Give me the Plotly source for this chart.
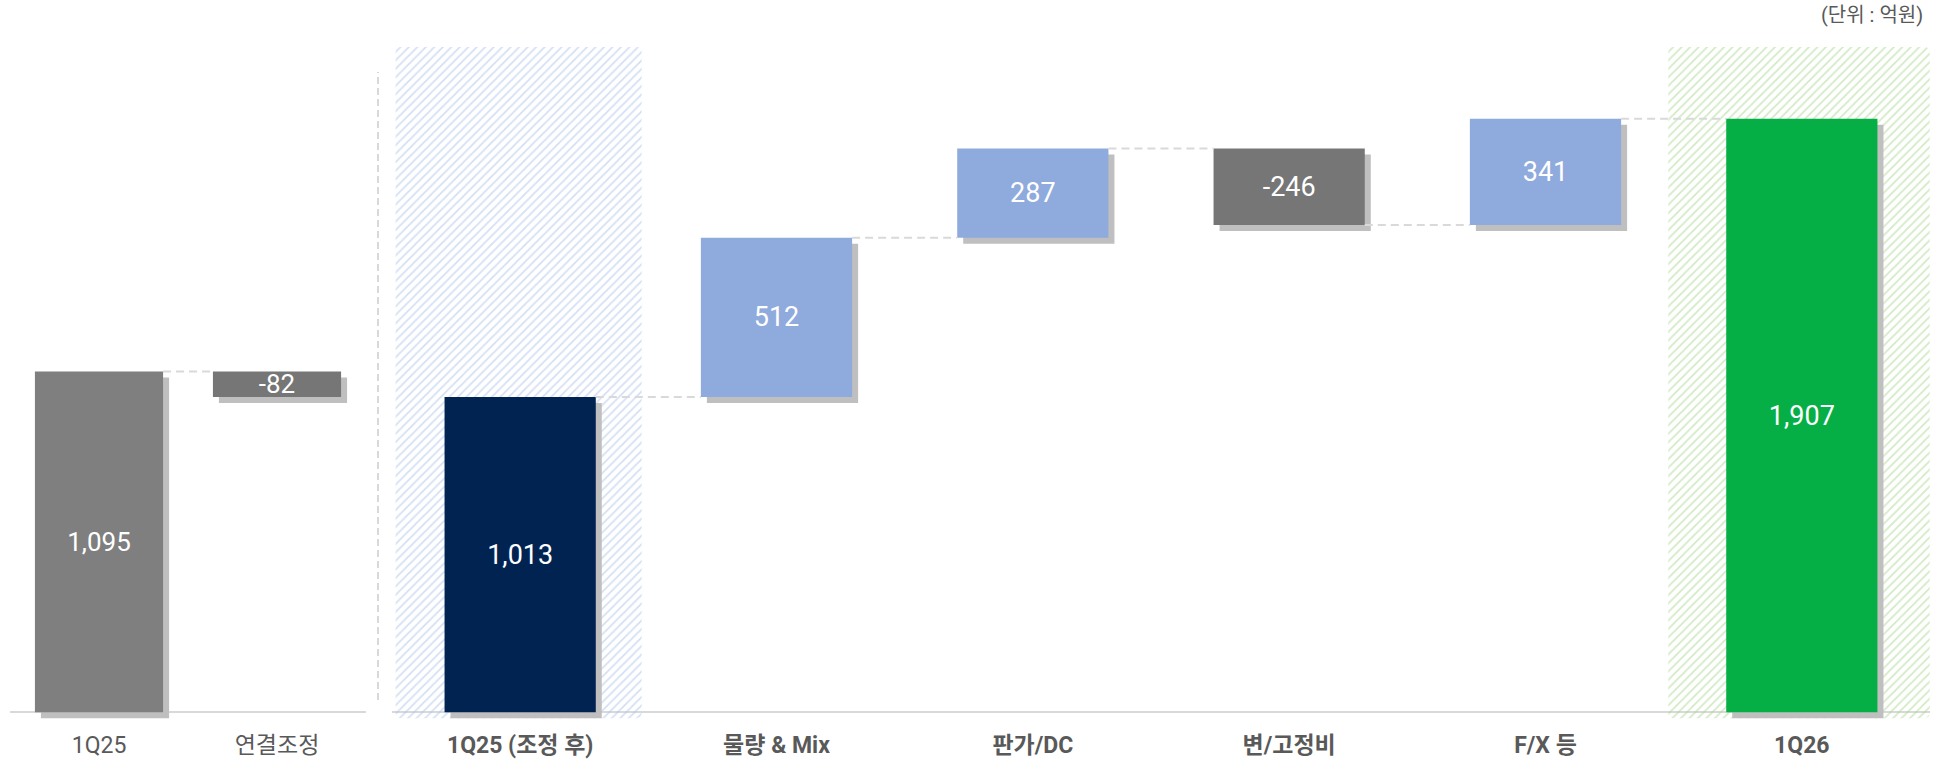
import plotly.graph_objects as go

# ---------------- data ----------------
LEFT_CATS = ["1Q25", "연결조정"]
LEFT_VALUES = [1095, -82]
LEFT_MEASURES = ["absolute", "relative"]
LEFT_COLORS = ["#7F7F7F", "#767676"]

RIGHT_CATS = ["1Q25 (조정 후)", "물량 & Mix", "판가/DC", "변/고정비", "F/X 등", "1Q26"]
RIGHT_VALUES = [1013, 512, 287, -246, 341, 1907]
RIGHT_MEASURES = ["absolute", "relative", "relative", "relative", "relative", "total"]
RIGHT_COLORS = ["#002352", "#8FAADC", "#8FAADC", "#767676", "#8FAADC", "#06AF46"]

HIGHLIGHT_IDX = [0, 5]
HIGHLIGHT_COLORS = ["#A9C1E8", "#A6D68C"]

UNIT_LABEL = "(단위 : 억원)"

# ---------------- layout constants ----------------
W, H = 1946, 760
M_T, M_B = 47, 40
Y_MIN, Y_MAX = -25, 2138
PLOT_H = H - M_T - M_B
PX_PER_UNIT = PLOT_H / (Y_MAX - Y_MIN)

LEFT_DOMAIN = [10 / W, 366 / W]
RIGHT_DOMAIN = [392 / W, 1930 / W]
LEFT_PX_PER_CAT = (LEFT_DOMAIN[1] - LEFT_DOMAIN[0]) * W / len(LEFT_CATS)
RIGHT_PX_PER_CAT = (RIGHT_DOMAIN[1] - RIGHT_DOMAIN[0]) * W / len(RIGHT_CATS)

LEFT_BAR_W = 0.72
RIGHT_BAR_W = 0.59
SHADOW_PX = 6
SHADOW_COLOR = "#BFBFBF"
CONNECTOR_COLOR = "#D9D9D9"
LABEL_COLOR = "#595959"
FONT = "Roboto, 'Noto Sans CJK KR', sans-serif"

HATCH_WIDTHS = [0.96, 1.02]
HATCH_OFFSETS = [-0.486, -0.521]


def floating(values, measures):
    bases, heights, levels = [], [], []
    level = 0
    for v, m in zip(values, measures):
        if m in ("absolute", "total"):
            b = 0
            level = v
        else:
            b = level
            level = level + v
        bases.append(b)
        heights.append(v)
        levels.append(level)
    return bases, heights, levels


fig = go.Figure()
dy = SHADOW_PX / PX_PER_UNIT


def add_group(cats, values, measures, colors, bar_w, px_per_cat, xa, ya, text_size):
    idx = list(range(len(cats)))
    bases, heights, levels = floating(values, measures)
    dx = SHADOW_PX / px_per_cat
    # shadows
    fig.add_trace(go.Bar(
        x=idx, y=heights, base=[b - dy for b in bases],
        width=bar_w, offset=-bar_w / 2 + dx,
        marker=dict(color=SHADOW_COLOR, line=dict(width=0)),
        hoverinfo="skip", showlegend=False, xaxis=xa, yaxis=ya,
    ))
    # connectors
    cx, cy = [], []
    for i in range(len(idx) - 1):
        cx += [idx[i] + bar_w / 2, idx[i + 1] - bar_w / 2, None]
        cy += [levels[i], levels[i], None]
    fig.add_trace(go.Scatter(
        x=cx, y=cy, mode="lines",
        line=dict(color=CONNECTOR_COLOR, width=2, dash="8px,5px"),
        hoverinfo="skip", showlegend=False, xaxis=xa, yaxis=ya,
    ))
    # bars
    fig.add_trace(go.Bar(
        x=idx, y=heights, base=bases, width=bar_w,
        marker=dict(color=colors, line=dict(width=0)),
        text=[f"{v:,}" for v in values],
        textposition="inside", insidetextanchor="middle", textangle=0,
        constraintext="none",
        textfont=dict(color="white", size=text_size, family=FONT),
        hoverinfo="skip", showlegend=False, xaxis=xa, yaxis=ya,
    ))


# hatched highlight boxes (right group)
fig.add_trace(go.Bar(
    x=HIGHLIGHT_IDX,
    y=[Y_MAX - (-dy)] * len(HIGHLIGHT_IDX),
    base=[-dy] * len(HIGHLIGHT_IDX),
    width=HATCH_WIDTHS, offset=HATCH_OFFSETS,
    marker=dict(
        color="rgba(255,255,255,0)",
        line=dict(width=0),
        cornerradius=5,
        pattern=dict(shape="/", fgcolor=HIGHLIGHT_COLORS, bgcolor="rgba(255,255,255,0)",
                     size=6, solidity=0.3, fillmode="overlay"),
    ),
    hoverinfo="skip", showlegend=False, xaxis="x2", yaxis="y2",
))

add_group(LEFT_CATS, LEFT_VALUES, LEFT_MEASURES, LEFT_COLORS, LEFT_BAR_W,
          LEFT_PX_PER_CAT, "x", "y", 26)
add_group(RIGHT_CATS, RIGHT_VALUES, RIGHT_MEASURES, RIGHT_COLORS, RIGHT_BAR_W,
          RIGHT_PX_PER_CAT, "x2", "y2", 27)

yax = dict(range=[Y_MIN, Y_MAX], showgrid=False, showticklabels=False,
           zeroline=True, zerolinecolor=CONNECTOR_COLOR, zerolinewidth=2,
           showline=False, fixedrange=True)

fig.update_layout(
    width=W, height=H,
    margin=dict(l=0, r=0, t=M_T, b=M_B),
    paper_bgcolor="white", plot_bgcolor="white",
    barmode="overlay",
    showlegend=False,
    font=dict(family=FONT, color=LABEL_COLOR),
    xaxis=dict(domain=LEFT_DOMAIN, range=[-0.5, len(LEFT_CATS) - 0.5],
               tickvals=list(range(len(LEFT_CATS))), ticktext=LEFT_CATS,
               showgrid=False, zeroline=False, showline=False, ticks="",
               tickfont=dict(size=23, color=LABEL_COLOR, family=FONT),
               ticklabelstandoff=9, anchor="y", fixedrange=True),
    xaxis2=dict(domain=RIGHT_DOMAIN, range=[-0.5, len(RIGHT_CATS) - 0.5],
                tickvals=list(range(len(RIGHT_CATS))), ticktext=RIGHT_CATS,
                showgrid=False, zeroline=False, showline=False, ticks="",
                tickfont=dict(size=23, color=LABEL_COLOR, family=FONT, weight="bold"),
                ticklabelstandoff=9, anchor="y2", fixedrange=True),
    yaxis=dict(**yax, anchor="x"),
    yaxis2=dict(**yax, anchor="x2"),
    shapes=[dict(
        type="line", xref="paper", yref="paper",
        x0=378 / W, x1=378 / W,
        y0=(H - M_B - 700) / PLOT_H, y1=(H - M_B - 72) / PLOT_H,
        line=dict(color=CONNECTOR_COLOR, width=2, dash="7px,4px"),
        layer="below",
    )],
    annotations=[dict(
        text=UNIT_LABEL, xref="paper", yref="paper",
        x=1925 / W, y=(H - M_B - 15) / PLOT_H,
        xanchor="right", yanchor="middle", showarrow=False,
        font=dict(size=20, color=LABEL_COLOR, family=FONT),
    )],
)

fig.write_html(
    "out.html",
    config={"displayModeBar": False},
    post_script="document.body.style.margin='0';document.body.style.overflow='hidden';",
)
